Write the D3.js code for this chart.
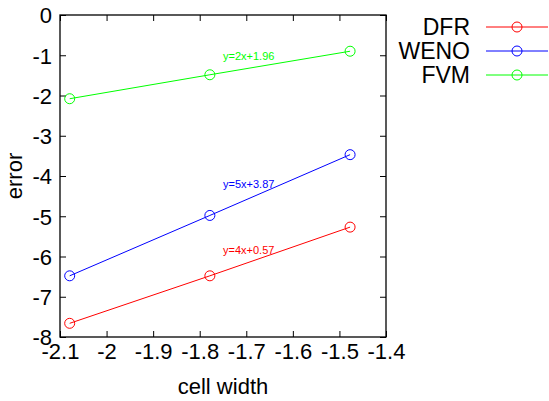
<!DOCTYPE html>
<html><head><meta charset="utf-8">
<script src="https://cdn.jsdelivr.net/npm/d3@7"></script>
<style>html,body{margin:0;padding:0;background:#fff;}svg{display:block;font-family:"Liberation Sans",Arial,Helvetica,sans-serif;}</style>
</head><body>
<script>
const cellWidth = [-2.0792, -1.7782, -1.4771];
const seriesNames = ["DFR", "WENO", "FVM"];
const seriesColors = ["#ff0000", "#0000ff", "#00ff00"];
const dfr = [-7.66, -6.48, -5.27];
const weno = [-6.48, -4.98, -3.47];
const fvm = [-2.08, -1.485, -0.90];
const fitLabels = ["y=4x+0.57", "y=5x+3.87", "y=2x+1.96"];
const fitLabelPos = [[-1.75, -5.94], [-1.75, -4.30], [-1.75, -1.12]];
const xTicks = [-2.1, -2, -1.9, -1.8, -1.7, -1.6, -1.5, -1.4];
const yTicks = [0, -1, -2, -3, -4, -5, -6, -7, -8];

const W = 549, H = 401;
const L = 60, R = 386, T = 15, B = 337;
const svg = d3.select("body").append("svg").attr("width", W).attr("height", H);
const x = d3.scaleLinear().domain([-2.1, -1.4]).range([L, R]);
const y = d3.scaleLinear().domain([-8, 0]).range([B, T]);
const fmt = d => String(d);

// ticks (inward, mirrored)
const tl = 6;
const axB = svg.append("g").attr("transform", `translate(0,${B})`)
  .call(d3.axisBottom(x).tickValues(xTicks).tickSize(-tl).tickFormat(fmt).tickPadding(6));
const axT = svg.append("g").attr("transform", `translate(0,${T})`)
  .call(d3.axisTop(x).tickValues(xTicks).tickSize(-tl).tickFormat(""));
const axL = svg.append("g").attr("transform", `translate(${L},0)`)
  .call(d3.axisLeft(y).tickValues(yTicks).tickSize(-tl).tickFormat(fmt).tickPadding(8));
const axR = svg.append("g").attr("transform", `translate(${R},0)`)
  .call(d3.axisRight(y).tickValues(yTicks).tickSize(-tl).tickFormat(""));
[axB, axT, axL, axR].forEach(a => {
  a.select(".domain").remove();
  a.selectAll(".tick line").attr("stroke", "#000").attr("stroke-width", 1);
  a.selectAll("text").attr("fill", "#000").style("font-size", "22px").style("font-family", "'Liberation Sans',Arial,sans-serif");
});
axB.selectAll("text").attr("dy", "0.71em").attr("y", 6);
axL.selectAll("text").attr("dy", "0.36em");
svg.append("rect").attr("x", L).attr("y", T).attr("width", R - L).attr("height", B - T)
  .attr("fill", "none").attr("stroke", "#000").attr("stroke-width", 1.3);

const all = [dfr, weno, fvm];
const line = d3.line().x((d, i) => x(cellWidth[i])).y(d => y(d));
all.forEach((s, k) => {
  svg.append("path").datum(s).attr("d", line).attr("fill", "none")
    .attr("stroke", seriesColors[k]).attr("stroke-width", 1);
  svg.selectAll(null).data(s).enter().append("circle")
    .attr("cx", (d, i) => x(cellWidth[i])).attr("cy", d => y(d)).attr("r", 5)
    .attr("fill", "none").attr("stroke", seriesColors[k]).attr("stroke-width", 1);
  svg.append("text").attr("x", x(fitLabelPos[k][0])).attr("y", y(fitLabelPos[k][1]))
    .attr("fill", seriesColors[k]).style("font-size", "11px").text(fitLabels[k]);
});

// axis labels
svg.append("text").attr("x", 223).attr("y", 394).attr("text-anchor", "middle")
  .style("font-size", "22px").text("cell width");
svg.append("text").attr("transform", `translate(22,${(T + B) / 2}) rotate(-90)`)
  .attr("text-anchor", "middle").style("font-size", "22px").text("error");

// legend
seriesNames.forEach((n, k) => {
  const cy = 27 + k * 24;
  svg.append("text").attr("x", 470).attr("y", cy).attr("dy", "0.36em").attr("text-anchor", "end")
    .style("font-size", "23px").text(n);
  svg.append("line").attr("x1", 486).attr("x2", 548).attr("y1", cy).attr("y2", cy)
    .attr("stroke", seriesColors[k]).attr("stroke-width", 1);
  svg.append("circle").attr("cx", 517).attr("cy", cy).attr("r", 5).attr("fill", "none")
    .attr("stroke", seriesColors[k]).attr("stroke-width", 1);
});
</script>
</body></html>
